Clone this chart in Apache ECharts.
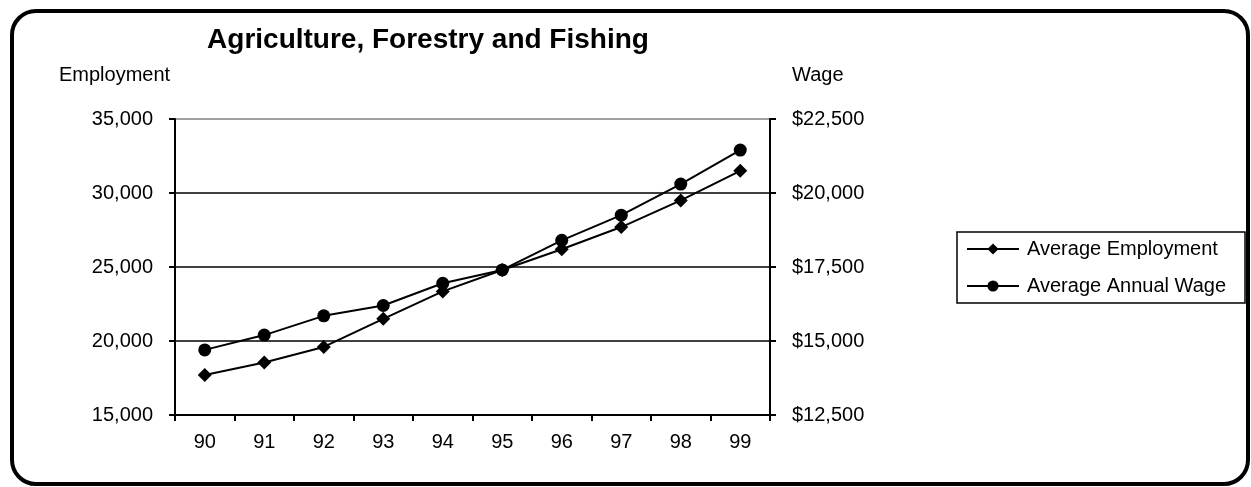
<!DOCTYPE html>
<html>
<head>
<meta charset="utf-8">
<script src="https://cdn.jsdelivr.net/npm/echarts@6/dist/echarts.min.js"></script>
<style>
  html, body { margin: 0; padding: 0; background: #fff; }
  #chart { width: 1251px; height: 487px; }
</style>
</head>
<body>
<div id="chart"></div>
<script>
const years = ['90', '91', '92', '93', '94', '95', '96', '97', '98', '99'];
const employment = [17700, 18550, 19600, 21500, 23350, 24800, 26200, 27700, 29500, 31500];
const wage = [14700, 15200, 15850, 16200, 16950, 17400, 18400, 19250, 20300, 21450];
const employmentTicks = [15000, 20000, 25000, 30000, 35000];
const wageTicks = [12500, 15000, 17500, 20000, 22500];

const FONT = '"Liberation Sans", Arial, sans-serif';
const chart = echarts.init(document.getElementById('chart'), null, { renderer: 'canvas' });

const fmt = v => v.toLocaleString('en-US');

chart.setOption({
  animation: false,
  backgroundColor: '#fff',
  title: {
    text: 'Agriculture, Forestry and Fishing',
    left: 423,
    textAlign: 'center',
    top: 21,
    textStyle: { fontFamily: FONT, fontWeight: 'bold', fontSize: 28, color: '#000' }
  },
  graphic: [
    {
      type: 'rect',
      shape: { x: 12, y: 11, width: 1236, height: 473, r: 24 },
      style: { fill: 'none', stroke: '#000', lineWidth: 4 },
      silent: true
    },
    {
      type: 'text', left: 59, top: 65,
      style: { text: 'Employment', font: '20px ' + FONT, fill: '#000' }
    },
    {
      type: 'text', left: 792, top: 65,
      style: { text: 'Wage', font: '20px ' + FONT, fill: '#000' }
    }
  ],
  legend: {
    orient: 'vertical',
    left: 957,
    top: 232,
    padding: [7, 19, 7, 9],
    itemGap: 17,
    itemWidth: 52,
    itemHeight: 14,
    borderColor: '#000',
    borderWidth: 1.5,
    textStyle: { fontFamily: FONT, fontSize: 20, color: '#000', padding: [0, 0, 0, 3] },
    data: ['Average Employment', 'Average Annual Wage']
  },
  grid: { left: 175, right: 481, top: 119, bottom: 72 },
  xAxis: {
    type: 'category',
    data: years,
    boundaryGap: true,
    axisLine: { lineStyle: { color: '#000', width: 2 } },
    axisTick: { show: true, length: 6, lineStyle: { color: '#000', width: 2 } },
    axisLabel: { fontFamily: FONT, fontSize: 20, color: '#000', margin: 17 },
    splitLine: { show: false }
  },
  yAxis: [
    {
      type: 'value',
      min: employmentTicks[0],
      max: employmentTicks[employmentTicks.length - 1],
      interval: 5000,
      position: 'left',
      axisLine: { show: true, lineStyle: { color: '#000', width: 2 } },
      axisTick: { show: true, length: 6, lineStyle: { color: '#000', width: 2 } },
      axisLabel: { fontFamily: FONT, fontSize: 20, color: '#000', margin: 22, formatter: fmt },
      splitLine: { show: true, lineStyle: { color: ['#000', '#000', '#000', '#000', '#808080'], width: 1.5 } }
    },
    {
      type: 'value',
      min: wageTicks[0],
      max: wageTicks[wageTicks.length - 1],
      interval: 2500,
      position: 'right',
      axisLine: { show: true, lineStyle: { color: '#000', width: 2 } },
      axisTick: { show: true, length: 6, lineStyle: { color: '#000', width: 2 } },
      axisLabel: { fontFamily: FONT, fontSize: 20, color: '#000', margin: 22, formatter: v => '$' + fmt(v) },
      splitLine: { show: false }
    }
  ],
  series: [
    {
      name: 'Average Employment',
      type: 'line',
      yAxisIndex: 0,
      data: employment,
      symbol: 'diamond',
      symbolSize: 14,
      lineStyle: { color: '#000', width: 2 },
      itemStyle: { color: '#000' }
    },
    {
      name: 'Average Annual Wage',
      type: 'line',
      yAxisIndex: 1,
      data: wage,
      symbol: 'circle',
      symbolSize: 13,
      lineStyle: { color: '#000', width: 2 },
      itemStyle: { color: '#000' }
    }
  ]
});
</script>
</body>
</html>
